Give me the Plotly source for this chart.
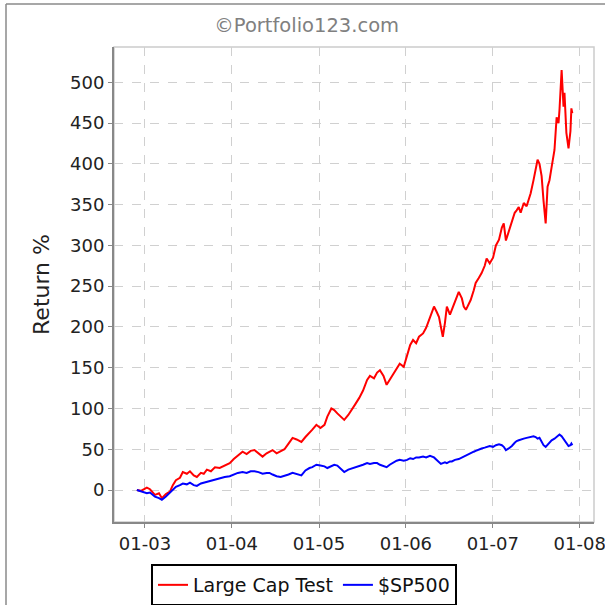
import plotly.graph_objects as go

dates = [
    "2002-11-28", "2002-12-15", "2003-01-09", "2003-01-22", "2003-02-12", "2003-03-01",
    "2003-03-13", "2003-03-30", "2003-04-16", "2003-04-28", "2003-05-11", "2003-05-28",
    "2003-06-09", "2003-06-26", "2003-07-09", "2003-07-25", "2003-08-07", "2003-08-24",
    "2003-09-05", "2003-09-18", "2003-10-05", "2003-10-22", "2003-11-11", "2003-12-02",
    "2003-12-23", "2004-01-09", "2004-01-26", "2004-02-15", "2004-03-03", "2004-03-20",
    "2004-04-05", "2004-04-22", "2004-05-09", "2004-05-26", "2004-06-07", "2004-06-20",
    "2004-07-07", "2004-07-24", "2004-08-09", "2004-08-26", "2004-09-12", "2004-09-29",
    "2004-10-19", "2004-11-05", "2004-11-22", "2004-12-04", "2004-12-21", "2005-01-07",
    "2005-01-24", "2005-02-05", "2005-02-22", "2005-03-06", "2005-03-19", "2005-04-04",
    "2005-04-17", "2005-05-04", "2005-05-16", "2005-06-02", "2005-06-19", "2005-07-05",
    "2005-07-22", "2005-08-03", "2005-08-20", "2005-09-02", "2005-09-14", "2005-09-29",
    "2005-10-12", "2005-10-25", "2005-11-11", "2005-11-23", "2005-12-06", "2005-12-23",
    "2006-01-06", "2006-01-19", "2006-01-31", "2006-02-13", "2006-02-25", "2006-03-14",
    "2006-03-27", "2006-04-12", "2006-04-29", "2006-05-11", "2006-05-20", "2006-05-28",
    "2006-06-05", "2006-06-14", "2006-06-22", "2006-07-05", "2006-07-13", "2006-07-26",
    "2006-08-11", "2006-08-24", "2006-09-01", "2006-09-10", "2006-09-22", "2006-09-30",
    "2006-10-13", "2006-10-21", "2006-11-03", "2006-11-15", "2006-11-28", "2006-12-06",
    "2006-12-19", "2007-01-02", "2007-01-14", "2007-01-27", "2007-02-08", "2007-02-16",
    "2007-02-25", "2007-03-09", "2007-03-22", "2007-04-03", "2007-04-11", "2007-04-20",
    "2007-04-28", "2007-05-11", "2007-05-23", "2007-06-09", "2007-06-21", "2007-06-30",
    "2007-07-08", "2007-07-16", "2007-07-25", "2007-08-02", "2007-08-11", "2007-08-19",
    "2007-08-27", "2007-09-05", "2007-09-17", "2007-09-26", "2007-10-04", "2007-10-08",
    "2007-10-17", "2007-10-25", "2007-10-29", "2007-11-06", "2007-11-15", "2007-11-23",
    "2007-11-27", "2007-12-01",
]

large_cap_test = [
    0, -1, 3, 1, -6, -4,
    -10, -5, -2, 6, 12, 15,
    22, 20, 23, 18, 16, 21,
    20, 25, 23, 28, 27, 30,
    33, 38, 42, 47, 44, 48,
    49, 45, 41, 45, 47, 49,
    45, 48, 50, 57, 64, 62,
    59, 65, 70, 74, 80, 76,
    80, 90, 100, 98, 94, 90,
    86, 92, 98, 105, 113, 122,
    135, 140, 137, 144, 147, 140,
    129, 135, 143, 150, 155, 151,
    165, 178, 184, 180, 188, 192,
    199, 212, 225, 218, 212, 200,
    188, 205, 225, 215, 221, 232,
    243, 235, 225, 221, 228, 233,
    245, 254, 260, 266, 275, 284,
    278, 285, 300, 307, 322, 327,
    306, 318, 331, 340, 343, 347,
    340, 352, 348, 364, 380, 395,
    405, 400, 385, 355, 327, 372,
    380, 396, 417, 457, 450, 466,
    515, 470, 487, 438, 419, 440,
    468, 462,
]

sp500 = [
    0, -2, -4, -3, -8, -10,
    -12, -8, -3, 1, 4, 6,
    8, 7, 9, 6, 5, 8,
    9, 10, 11, 13, 14, 16,
    17, 19, 21, 22, 21, 23,
    23, 22, 20, 21, 21, 19,
    17, 16, 17, 19, 21, 20,
    18, 24, 27, 28, 31, 30,
    29, 27, 29, 31, 30, 25,
    22, 25, 26, 28, 29, 31,
    33, 32, 33, 33, 31, 29,
    28, 31, 34, 36, 37, 36,
    37, 39, 38, 40, 40, 41,
    40, 42, 40, 37, 35, 32,
    33, 34, 33, 35, 35, 37,
    38, 40, 41, 42, 44, 46,
    47, 48, 50, 51, 52, 53,
    54, 53, 55, 56, 55, 53,
    49, 51, 54, 58, 60, 61,
    62, 63, 64, 65, 66, 65,
    63, 64, 60, 55, 53, 56,
    58, 61, 63, 65, 67, 68,
    66, 63, 61, 57, 54, 55,
    57, 55,
]

tick_dates = ["2003-01-01", "2004-01-01", "2005-01-01", "2006-01-01", "2007-01-01", "2008-01-01"]
tick_labels = ["01-03", "01-04", "01-05", "01-06", "01-07", "01-08"]
y_ticks = [0, 50, 100, 150, 200, 250, 300, 350, 400, 450, 500]

FONT = "DejaVu Sans"

fig = go.Figure()
fig.add_trace(go.Scatter(x=dates, y=large_cap_test, mode="lines", name="Large Cap Test",
                         line=dict(color="#ff0000", width=2)))
fig.add_trace(go.Scatter(x=dates, y=sp500, mode="lines", name="$SP500",
                         line=dict(color="#0000ff", width=2)))

PW, PH = 480, 475
fig.update_layout(
    width=605, height=605,
    margin=dict(l=114, r=11, t=47, b=83, autoexpand=False),
    paper_bgcolor="white", plot_bgcolor="white",
    font=dict(family=FONT, color="#222222", size=18),
    title=dict(text="©Portfolio123.com", x=0.507, xanchor="center", y=0.958, yanchor="middle",
               font=dict(family=FONT, size=19.5, color="#808080")),
    showlegend=True,
    legend=dict(orientation="h", x=(151 - 114) / PW, xanchor="left", y=-(564 - 522) / PH, yanchor="top",
                bordercolor="#000000", borderwidth=2, bgcolor="white",
                font=dict(family=FONT, size=19, color="#111111"),
                itemwidth=30, tracegroupgap=0),
    shapes=[
        dict(type="rect", xref="paper", yref="paper", x0=0, x1=1, y0=0, y1=1,
             line=dict(color="#cccccc", width=1.5), layer="below"),
        dict(type="line", xref="paper", yref="paper", x0=(6 - 114) / PW, x1=1.03,
             y0=1 + (47 - 4) / PH, y1=1 + (47 - 4) / PH, line=dict(color="#8a8a8a", width=1.5)),
        dict(type="line", xref="paper", yref="paper", x0=(6 - 114) / PW, x1=(6 - 114) / PW,
             y0=1 + (47 - 4) / PH, y1=-0.2, line=dict(color="#8a8a8a", width=1.5)),
    ],
)

fig.update_xaxes(
    type="date", range=["2002-08-24", "2008-03-01"], automargin=False,
    tickvals=tick_dates, ticktext=tick_labels, ticklabeloverflow="allow",
    showgrid=True, gridcolor="#d0d0d0", griddash="dash", gridwidth=1,
    showline=True, linecolor="#888888", linewidth=2,
    ticks="outside", ticklen=4, tickcolor="#888888",
    tickfont=dict(family=FONT, size=18, color="#222222"),
    zeroline=False,
)
fig.update_yaxes(
    range=[-39.2, 543.3], automargin=False,
    tickvals=y_ticks,
    showgrid=True, gridcolor="#d0d0d0", griddash="dash", gridwidth=1,
    showline=True, linecolor="#888888", linewidth=2,
    ticks="outside", ticklen=4, tickcolor="#888888",
    tickfont=dict(family=FONT, size=18, color="#222222"),
    title=dict(text="Return %", font=dict(family=FONT, size=22, color="#222222"), standoff=14),
    zeroline=False,
)

fig.write_html("out.html", config={"displayModeBar": False},
               post_script="document.body.style.margin='0px';")
